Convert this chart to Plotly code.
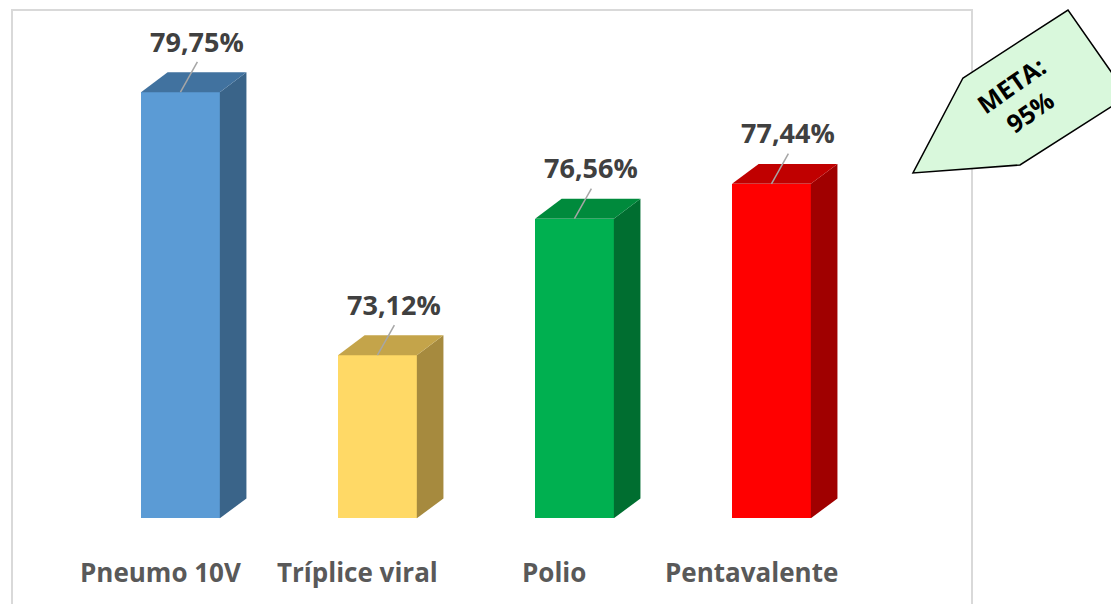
import plotly.graph_objects as go

# ─── Data ────────────────────────────────────────────────────────────────────
categories = ["Pneumo 10V", "Tríplice viral", "Polio", "Pentavalente"]
coverage = [79.75, 73.12, 76.56, 77.44]
value_labels = ["79,75%", "73,12%", "76,56%", "77,44%"]
meta_text = "META:<br>95%"

# ─── Colours (front, top, side) ─────────────────────────────────────────────
FRONT = ["#5B9BD5", "#FFD966", "#00B050", "#FF0000"]
TOP = ["#41729F", "#C4A44A", "#008A3C", "#C00000"]
SIDE = ["#3A6489", "#A68A3E", "#006E30", "#A00000"]

BASE = 69.01          # floor of the 3D bars
Y_RANGE = [66.85, 81.82]
X_RANGE = [-0.855, 4.018]
W = 0.40              # bar width (x units)
DX, DY = 0.135, 0.50  # depth offset of the 3D faces
LX, LY = 0.086, 0.76  # leader-line offset

xs = list(range(len(categories)))

fig = go.Figure()

# front faces
fig.add_trace(go.Bar(
    x=xs, y=[v - BASE for v in coverage], base=BASE, width=W,
    marker=dict(color=FRONT, line=dict(width=0)),
    hovertext=categories, hoverinfo="text", showlegend=False,
))

# side and top faces, leader lines, labels
for i, v in enumerate(coverage):
    r = i + W / 2
    l = i - W / 2
    fig.add_trace(go.Scatter(
        x=[r, r + DX, r + DX, r, r], y=[BASE, BASE + DY, v + DY, v, BASE],
        fill="toself", fillcolor=SIDE[i], mode="lines", line=dict(width=0),
        hoverinfo="skip", showlegend=False,
    ))
    fig.add_trace(go.Scatter(
        x=[l, r, r + DX, l + DX, l], y=[v, v, v + DY, v + DY, v],
        fill="toself", fillcolor=TOP[i], mode="lines", line=dict(width=0),
        hoverinfo="skip", showlegend=False,
    ))
    fig.add_trace(go.Scatter(
        x=[i, i + LX], y=[v, v + LY], mode="lines",
        line=dict(color="#A6A6A6", width=1.5),
        hoverinfo="skip", showlegend=False,
    ))
    fig.add_annotation(
        x=i, y=v, text=f"<b>{value_labels[i]}</b>", showarrow=False,
        xshift=17, yshift=51, xanchor="center", yanchor="middle",
        font=dict(size=27, color="#404040", family="Open Sans"),
    )
    fig.add_annotation(
        x=i, y=0.054, yref="paper", text=f"<b>{categories[i]}</b>", showarrow=False,
        xshift=-20, xanchor="center", yanchor="middle",
        font=dict(size=26, color="#595959", family="Open Sans"),
    )

# ─── Chart border & META callout ────────────────────────────────────────────
def px_to_paper(px, py):
    return (px - 12) / 960, (604 - py) / 594

pts = [px_to_paper(*p) for p in [(963, 78), (1068, 10), (1128, 96), (1020, 165), (913, 173)]]
path = "M " + " L ".join(f"{x:.4f},{y:.4f}" for x, y in pts) + " Z"

fig.add_shape(type="rect", xref="paper", yref="paper", x0=0, y0=-0.05, x1=1, y1=1,
              line=dict(color="#D9D9D9", width=2), layer="below")
fig.add_shape(type="path", xref="paper", yref="paper", path=path,
              fillcolor="#D9F8DC", line=dict(color="#000000", width=1.5))

mx, my = px_to_paper(1020, 98)
fig.add_annotation(
    x=mx, y=my, xref="paper", yref="paper", text=f"<b>{meta_text}</b>",
    showarrow=False, textangle=-35, xanchor="center", yanchor="middle",
    font=dict(size=25, color="#000000", family="Open Sans"),
)

fig.update_layout(
    width=1111, height=604,
    paper_bgcolor="white", plot_bgcolor="white",
    margin=dict(l=12, r=139, t=10, b=0),
    xaxis=dict(range=X_RANGE, visible=False, fixedrange=True),
    yaxis=dict(range=Y_RANGE, visible=False, fixedrange=True),
    bargap=0,
)

fig.write_html("out.html", config={"displayModeBar": False},
               post_script="document.body.style.margin='0';")
